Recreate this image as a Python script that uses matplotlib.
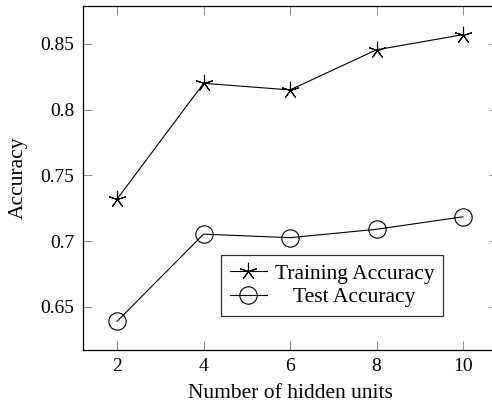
import matplotlib
matplotlib.use("Agg")
import matplotlib.pyplot as plt

# --- data ---
hidden_units = [2, 4, 6, 8, 10]
train_acc = [0.732, 0.820, 0.815, 0.8455, 0.857]
test_acc = [0.639, 0.7053, 0.7026, 0.709, 0.7185]
y_ticks = [0.65, 0.70, 0.75, 0.80, 0.85]
y_tick_labels = ["0.65", "0.7", "0.75", "0.8", "0.85"]

plt.rcParams['font.family'] = ['Liberation Serif', 'DejaVu Serif']

fig = plt.figure(figsize=(4.92, 4.09), dpi=100)
ax = fig.add_axes([0.1677, 0.1443, 0.8437, 0.841])

star = (5, 2, 0)  # five-ray asterisk
ax.plot(hidden_units, train_acc, color='black', lw=0.8, marker=star,
        ms=12.5, mew=0.8, mfc='none', label='Training Accuracy')
ax.plot(hidden_units, test_acc, color='black', lw=0.8, marker='o',
        ms=12.5, mew=0.8, mfc='none', label='Test Accuracy')

# axis limits padded by 10% of the data range on each side
ax.set_xlim(1.2, 10.8)
ax.set_ylim(0.6172, 0.8788)
ax.set_xticks(hidden_units)
ax.set_yticks(y_ticks)
ax.set_yticklabels(y_tick_labels)

ax.tick_params(direction='in', length=6.5, width=0.7, color='0.55',
               top=True, right=True, labelsize=14, pad=6)
for sp in ax.spines.values():
    sp.set_linewidth(0.9)

ax.set_xlabel("Number of hidden units", fontsize=15.5, labelpad=6)
ax.set_ylabel("Accuracy", fontsize=15.5, labelpad=9)

leg = ax.legend(loc='center', bbox_to_anchor=(0.601, 0.1875), fontsize=15.5,
                frameon=True, fancybox=False, edgecolor='black',
                handlelength=1.75, handletextpad=0.35, borderpad=0.4,
                labelspacing=0.15, borderaxespad=0)
leg.get_frame().set_linewidth(0.9)

# center the shorter legend entry under the longer one
fig.canvas.draw()
renderer = fig.canvas.get_renderer()
widths = [t.get_window_extent(renderer).width for t in leg.get_texts()]
column = leg.get_children()[0].get_children()[1].get_children()[0]
rows = column.get_children()
px_to_pt = 72.0 / fig.dpi
for row, w in zip(rows, widths):
    row.sep += (max(widths) - w) / 2 * px_to_pt

fig.savefig("out.png", dpi=100)
